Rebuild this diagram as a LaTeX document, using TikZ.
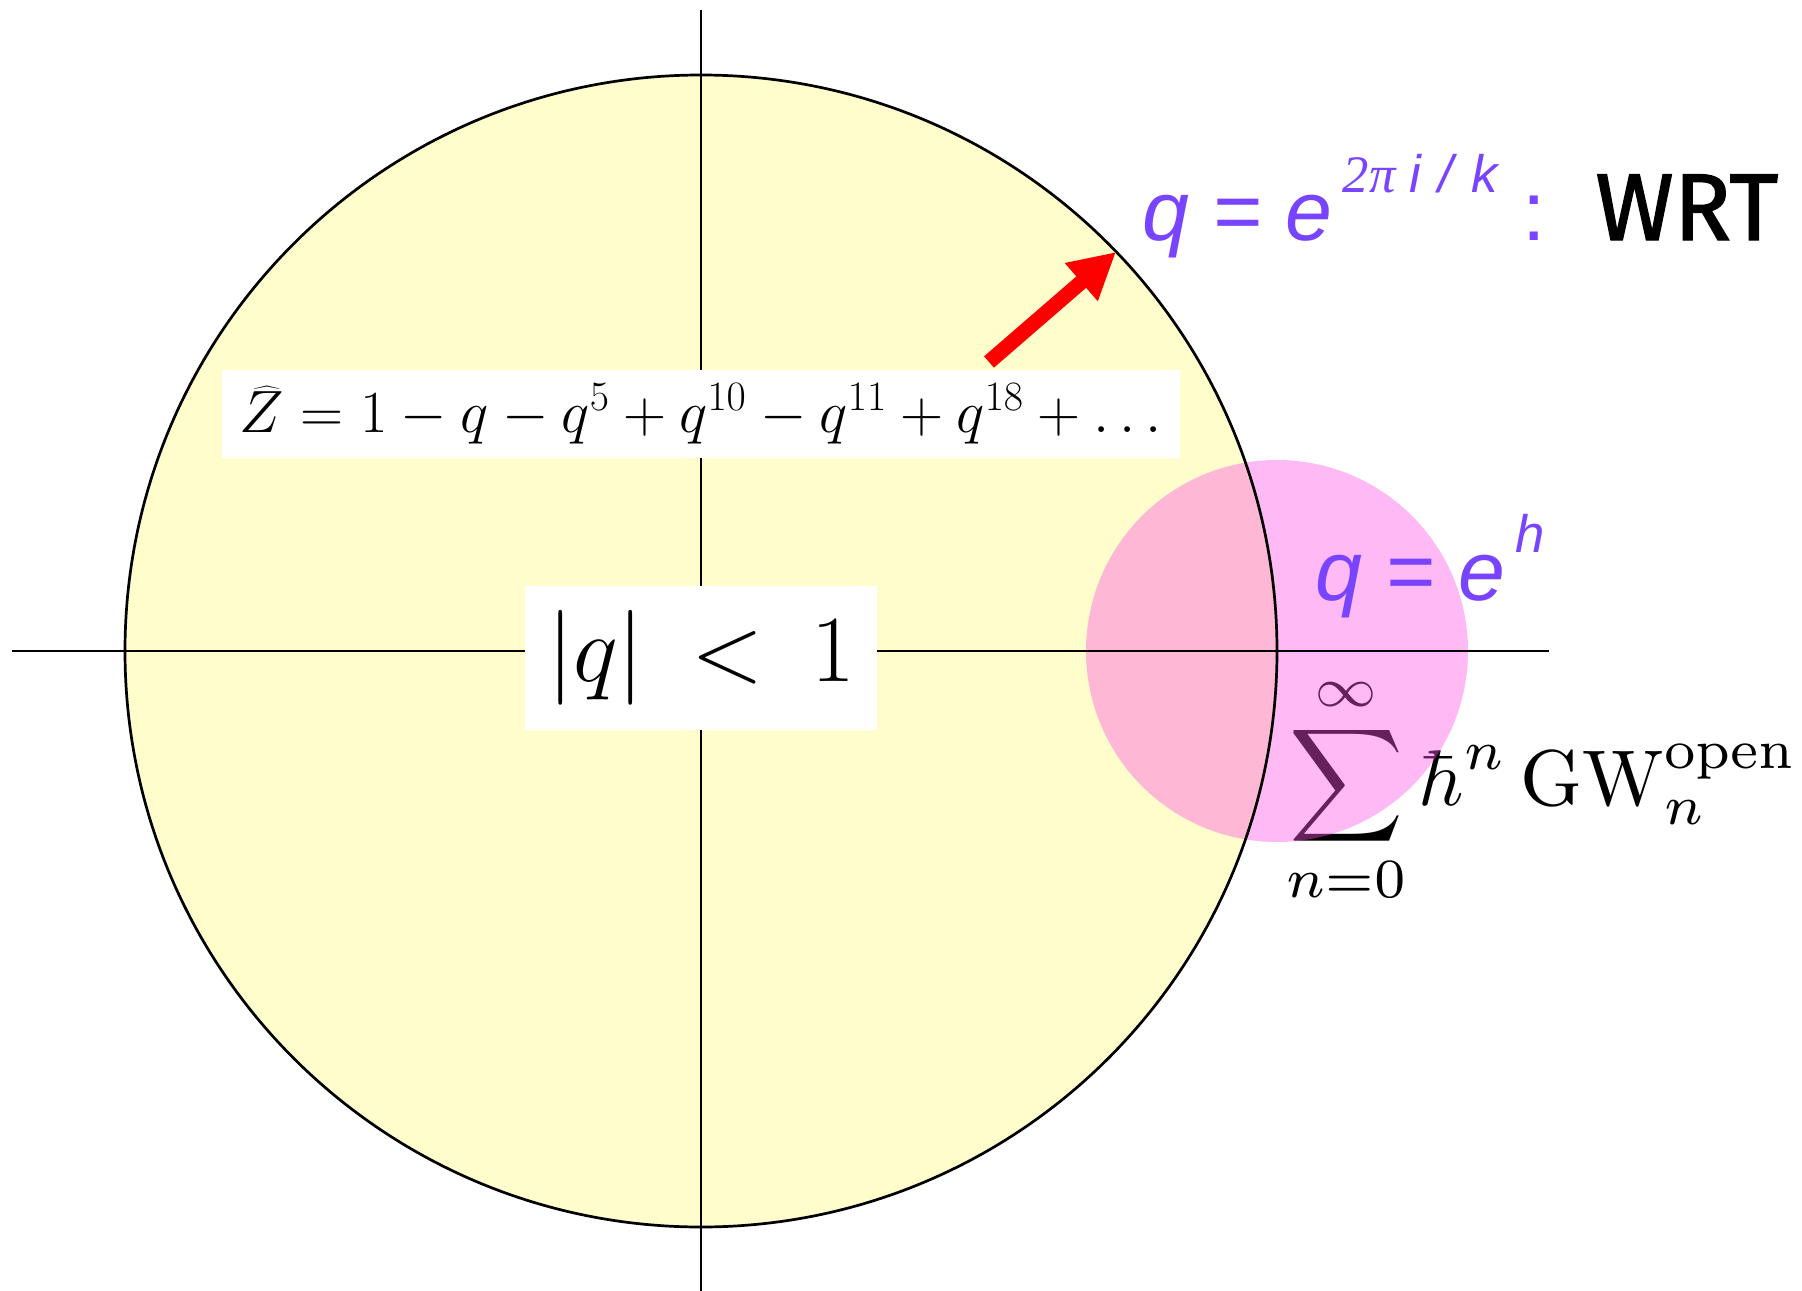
\RequirePackage{fix-cm}
\documentclass[tikz,border=0pt]{standalone}
\usepackage{graphicx}
\usepackage{fontspec}
\usetikzlibrary{arrows.meta}
\newfontfamily\qfont{Liberation Sans}
\newfontfamily\serifit{Liberation Serif}
\newfontfamily\wrtfont{Fira Sans}[FakeBold=1.5]
\definecolor{qyellow}{RGB}{255,253,204}
\definecolor{qpink}{RGB}{255,80,230}
\definecolor{qpurple}{RGB}{120,68,255}
\begin{document}
\begin{tikzpicture}[x=0.02cm,y=-0.02cm,
  axis/.style={line width=0.04cm},
  rim/.style={line width=0.054cm},
  whitebox/.style={fill=white, inner sep=0pt},
  purpletext/.style={text=qpurple, inner sep=0pt, anchor=base west},
  redarrow/.style={draw=red, line width=0.3cm, -{Triangle[length=0.92cm,width=0.94cm]}}]
\useasboundingbox (0,0) rectangle (1802,1291);
\coordinate (O) at (701,651);
\coordinate (P) at (1277,651);
\coordinate (xl) at (12,651);
\coordinate (xr) at (1549,651);
\coordinate (yt) at (701,10);
\coordinate (yb) at (701,1291);
\coordinate (atail) at (989,362);
\coordinate (atip) at (1116,252);
% unit disc
\fill[qyellow] (O) circle (576);
% perturbative sum
\node[inner sep=0pt] (sum) at (1542,790)
  {\scalebox{4.5}{$\displaystyle\sum_{n=0}^{\infty}\hbar^n\,\mathrm{GW}^{\mathrm{open}}_n$}};
% pink disc
\fill[qpink,opacity=0.4] (P) circle (191);
\draw[rim] (O) circle (576);
\draw[axis] (xl) -- (xr);
\draw[axis] (yt) -- (yb);
% boxes
\node[whitebox, minimum width=19.16cm, minimum height=1.76cm] (zhat) at (701,414)
  {\fontsize{34}{40}\selectfont $\widehat{Z}=1-q-q^5+q^{10}-q^{11}+q^{18}+\ldots$};
\node[whitebox, minimum width=7.04cm, minimum height=2.9cm] (disc) at (701,658)
  {\fontsize{54}{60}\selectfont $|q|\mkern4mu<\mkern4mu1$};
% arrow
\draw[redarrow] (atail) -- (atip);
% labels
\node[purpletext] (wrtq) at (1142,240)
  {\qfont\itshape\fontsize{48}{50}\selectfont q = e\hspace{6pt}\raisebox{27pt}{\fontsize{30}{32}\selectfont{\serifit\itshape 2π}\hspace{8pt}\qfont\itshape i\hspace{10pt}/\hspace{10pt}k}\hspace{14pt}\upshape :};
\node[anchor=base west, inner sep=0pt] (wrt) at (1595,240)
  {\wrtfont\fontsize{54}{56}\selectfont WRT};
\node[purpletext] (qh) at (1315,600)
  {\qfont\itshape\fontsize{48}{50}\selectfont q = e\hspace{6pt}\raisebox{27pt}{\fontsize{30}{32}\selectfont h}};
\end{tikzpicture}
\end{document}
